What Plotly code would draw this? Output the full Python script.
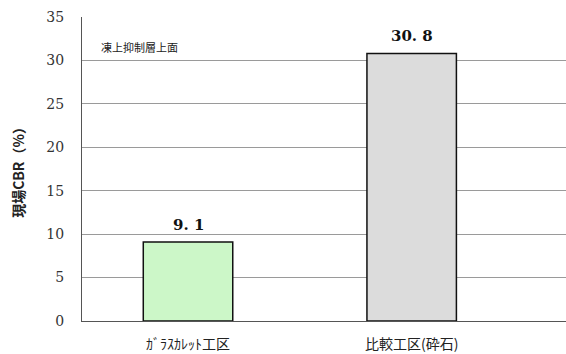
import plotly.graph_objects as go

categories = ["ｶﾞﾗｽｶﾚｯﾄ工区", "比較工区(砕石)"]
values = [9.1, 30.8]
value_labels = ["9. 1", "30. 8"]
bar_colors = ["#ccf7c8", "#dcdcdc"]
y_ticks = [0, 5, 10, 15, 20, 25, 30, 35]

fig = go.Figure()
fig.add_trace(go.Bar(
    x=categories, y=values, width=0.40,
    marker=dict(color=bar_colors, line=dict(color="#111111", width=1.5)),
))

annotations = [dict(
    text="凍上抑制層上面", xref="paper", yref="paper", x=0.035, y=0.90,
    xanchor="left", yanchor="middle", showarrow=False,
    font=dict(size=11, family="Noto Sans CJK JP", color="#222222"),
)]
for c, v, lab in zip(categories, values, value_labels):
    annotations.append(dict(
        x=c, y=v, xref="x", yref="y", text=lab, showarrow=False,
        yanchor="bottom", yshift=6,
        font=dict(family="DejaVu Serif", size=15, color="#111111", weight="bold"),
    ))

fig.update_layout(
    width=566, height=354,
    margin=dict(l=82, r=0, t=17, b=33),
    paper_bgcolor="white", plot_bgcolor="white",
    showlegend=False,
    font=dict(family="Noto Sans CJK JP", color="#222222"),
    xaxis=dict(
        range=[-0.474, 1.69],
        showline=True, linecolor="#555555", linewidth=1,
        ticks="", ticklabelstandoff=10,
        tickfont=dict(size=14, family="Noto Sans CJK JP", color="#222222"),
        showgrid=False,
    ),
    yaxis=dict(
        range=[0, 35], tickvals=y_ticks,
        showline=True, linecolor="#555555", linewidth=1,
        showgrid=True, gridcolor="#9a9a9a", gridwidth=1,
        ticks="", ticklabelstandoff=14,
        tickfont=dict(size=14, family="DejaVu Serif", color="#333333"),
        title=dict(text="現場CBR（%）", standoff=18,
                   font=dict(size=14, family="Noto Sans CJK JP", color="#222222", weight="bold")),
    ),
    annotations=annotations,
)

fig.write_html("out.html")
